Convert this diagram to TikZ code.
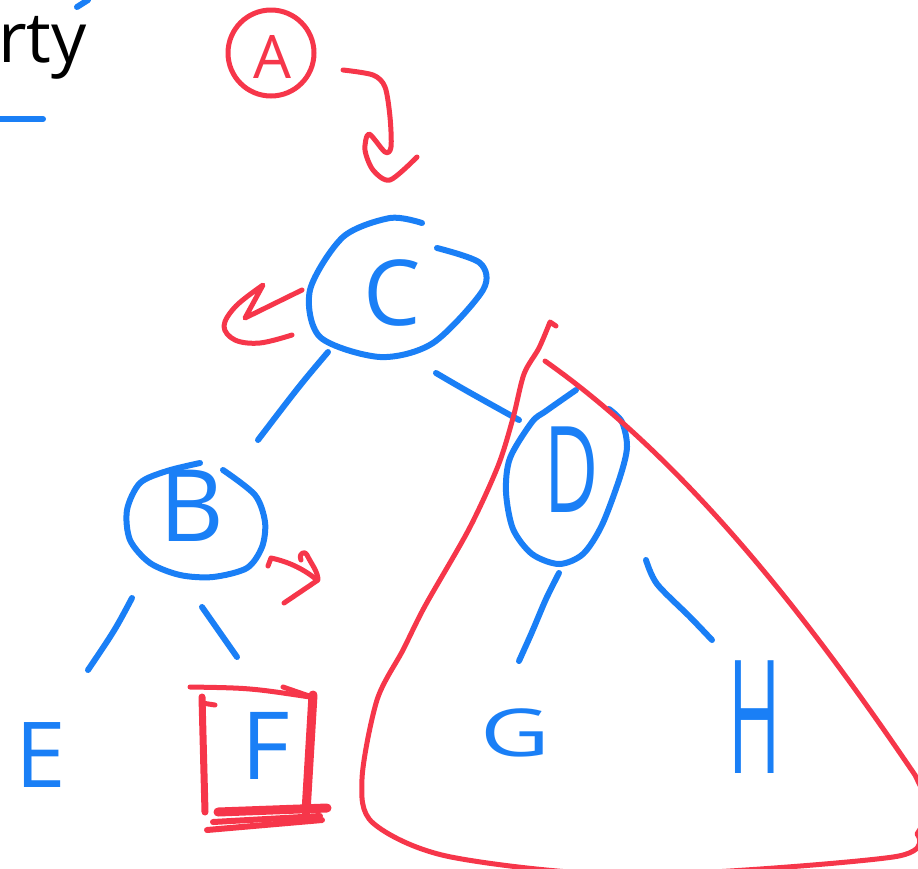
\documentclass[tikz,border=0pt]{standalone}
\usepackage{fontspec}
\setmainfont{Open Sans}
\definecolor{penblue}{HTML}{1A7FF6}
\definecolor{penred}{HTML}{F6364A}
\tikzset{
  bluepen/.style={draw=penblue, line width=6pt, line cap=round, line join=round},
  redpen/.style={draw=penred, line width=5pt, line cap=round, line join=round},
  letter/.style={text=penblue, inner sep=0pt},
}
\newcommand{\fs}[1]{\fontsize{#1}{#1}\selectfont}
\begin{document}
\begin{tikzpicture}[x=1pt,y=-1pt]
\useasboundingbox (0,0) rectangle (918,868);
\clip (0,0) rectangle (918,868);
% partial heading
\node[anchor=base west, inner sep=0pt, font=\fs{70}] (rty) at (-2,62) {rty};
\coordinate (tk1) at (77,7); \coordinate (tk2) at (88,0);
\draw[bluepen] (tk1) -- (tk2);
\coordinate (hl1) at (-5,119); \coordinate (hl2) at (43,119);
\draw[bluepen] (hl1) -- (hl2);

% A
\node[text=penred, inner sep=0pt, font=\fs{60}] (A) at (272,57) {A};
\draw[redpen] (271,53) circle (43);
% arrow A -> C
\coordinate (a1) at (343,70);
\coordinate (a2) at (417,157);
\draw[redpen] (a1) plot[smooth, tension=0.5] coordinates {(343,70) (373,75) (385,87) (390,117) (391,147) (385,152) (369,134) (365,150) (373,170) (390,180) (a2)};

% C
\node[letter, font=\fs{91}] (C) at (392,293) {C};
\draw[bluepen] plot[smooth] coordinates {(422,223) (390,218) (343,237) (310,290) (320,337) (380,357) (433,343) (483,290) (480,263) (437,248)};
% red arrow left of C
\coordinate (r1) at (302,290);
\coordinate (r2) at (292,335);
\draw[redpen] (r1) -- (245,318) -- (263,285) -- plot[smooth, tension=0.6] coordinates {(263,285) (236,306) (224,326) (235,340) (260,343) (r2)};

% edges from C
\coordinate (cb1) at (328,352); \coordinate (cb2) at (258,440);
\draw[bluepen] (cb1) .. controls (300,385) .. (cb2);
\coordinate (cd1) at (436,373); \coordinate (cd2) at (519,420);
\draw[bluepen] (cd1) .. controls (465,390) .. (cd2);

% B
\node[letter, font=\fs{100}] (B) at (192,506) {B};
\draw[bluepen] plot[smooth] coordinates {(223,470) (255,495) (265,522) (262,547) (247,568) (213,577) (180,575) (150,563) (130,540) (127,510) (140,483) (167,471) (200,463)};
% red arrow right of B
\coordinate (rb1) at (268,566);
\coordinate (rb2) at (284,603);
\draw[redpen] (rb1) -- (271,558) .. controls (290,562) and (305,570) .. (317,580);
\draw[redpen] (301,560) .. controls (298,552) and (306,551) .. (307,555) .. controls (312,565) and (318,572) .. (318,580) -- (rb2);

% edges from B
\coordinate (be1) at (132,598); \coordinate (be2) at (88,670);
\draw[bluepen] (be1) .. controls (115,630) .. (be2);
\coordinate (bf1) at (202,607); \coordinate (bf2) at (237,657);
\draw[bluepen] (bf1) -- (bf2);

% E
\node[letter, font=\fs{91}] (E) at (41,755) {E};
% F with red box
\node[letter, font=\fs{94}] (F) at (266,746) {F};
\draw[redpen] (190,687) .. controls (250,688) .. (310,697);
\draw[redpen] (283,687) -- (312,697);
\draw[redpen, line width=7pt] (202,697) -- (205,812);
\draw[redpen] (202,703) -- (215,705);
\draw[redpen, line width=9pt] (313,695) -- (306,812);
\draw[redpen, line width=9pt] (218,812) -- (327,808);
\draw[redpen, line width=6pt] (207,830) -- (322,820);
\draw[redpen, line width=6pt] (213,822) -- (320,816);

% D
\node[letter, font=\fs{120}] (D) at (572,470) {\scalebox{0.62}[1]{D}};
\draw[bluepen] plot[smooth] coordinates {(576,390) (546,411) (532,422) (510,458) (506,492) (513,529) (532,554) (559,564) (583,554) (602,525) (620,477) (627,447) (622,422) (609,409)};
% edges from D
\coordinate (dg1) at (559,573); \coordinate (dg2) at (519,661);
\draw[bluepen] plot[smooth] coordinates {(dg1) (546,599) (532,632) (dg2)};
\coordinate (dh1) at (646,560); \coordinate (dh2) at (712,640);
\draw[bluepen] plot[smooth] coordinates {(dh1) (657,584) (690,617) (dh2)};

% G and H
\node[letter, font=\fs{66}] (G) at (515,733) {\scalebox{1.45}[1]{G}};
\node[letter, font=\fs{158}] (H) at (755,717) {\scalebox{0.45}[1]{H}};

% red subtree outline
\coordinate (t1) at (556,326);
\coordinate (t2) at (545,361);
\draw[redpen] (t1) -- (550,322) -- plot[smooth] coordinates {(550,322) (539,348) (524,374) (513,418) (498,466) (469,529) (425,606) (403,650) (377,700) (362,779) (373,823) (451,857) (635,875) (893,857) (917,834)} .. controls (932,810) .. (915,775) .. controls (830,650) and (700,470) .. (t2);
\end{tikzpicture}
\end{document}
